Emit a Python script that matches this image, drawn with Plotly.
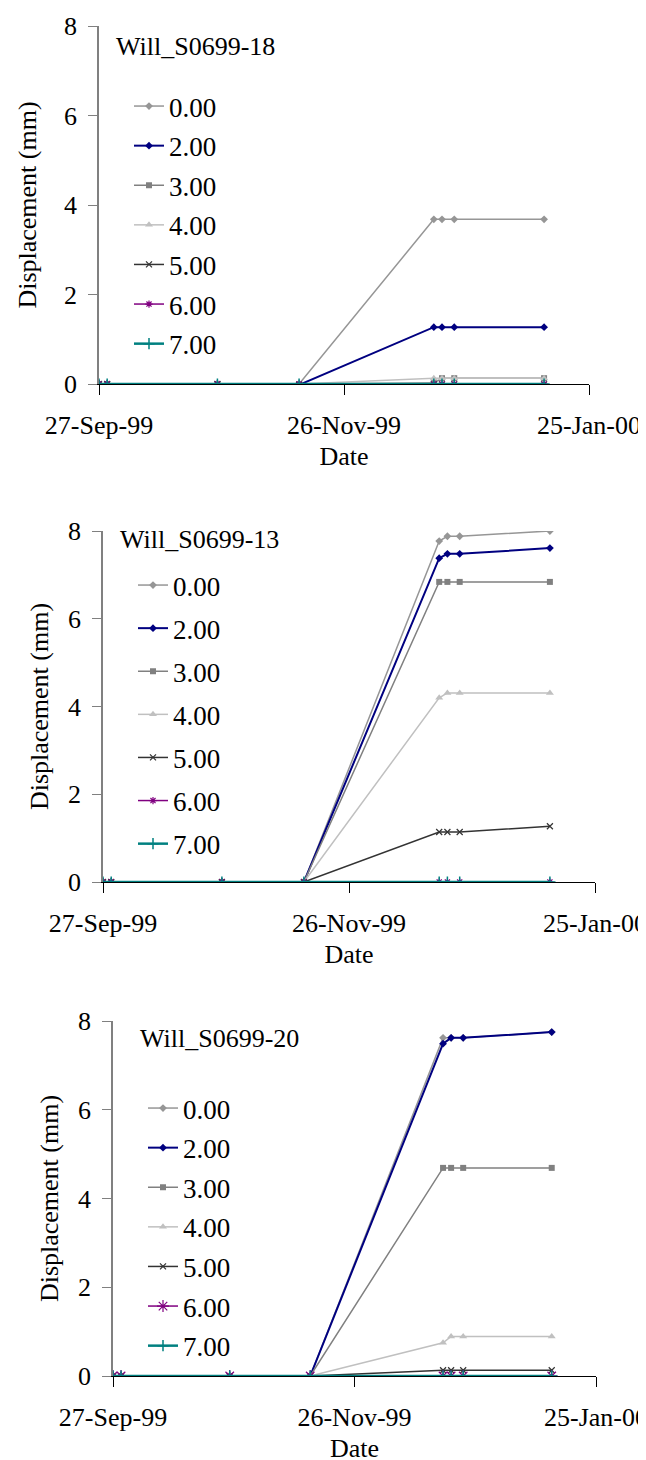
import plotly.graph_objects as go

# ---------------- data ----------------
dates = ["1999-09-27", "1999-09-29", "1999-10-26", "1999-11-15",
         "1999-12-18", "1999-12-20", "1999-12-23", "2000-01-14"]

series_names = ["0.00", "2.00", "3.00", "4.00", "5.00", "6.00", "7.00"]

titles = ["Will_S0699-18", "Will_S0699-13", "Will_S0699-20"]

s18_000 = [0, 0, 0, 0, 3.68, 3.68, 3.68, 3.68]
s18_200 = [0, 0, 0, -0.02, 1.27, 1.27, 1.27, 1.27]
s18_300 = [0, 0, 0, 0, 0.02, 0.13, 0.13, 0.13]
s18_400 = [0, 0, 0, 0, 0.13, 0.13, 0.13, 0.13]
s18_500 = [0, 0, 0, -0.02, -0.01, -0.01, -0.01, -0.01]
s18_600 = [0, 0, 0, 0, 0, 0, 0, 0]
s18_700 = [0, 0, 0, 0, 0, 0, 0, 0]

s13_000 = [0, 0, 0, 0, 7.77, 7.88, 7.88, 8.0]
s13_200 = [0, 0, 0, 0, 7.38, 7.48, 7.48, 7.61]
s13_300 = [0, 0, 0, 0, 6.84, 6.84, 6.84, 6.84]
s13_400 = [0, 0, 0, 0, 4.20, 4.31, 4.31, 4.31]
s13_500 = [0, 0, 0, 0, 1.14, 1.14, 1.14, 1.27]
s13_600 = [0, 0, 0, 0, 0, 0, 0, 0]
s13_700 = [0, 0, 0, 0, 0, 0, 0, 0]

s20_000 = [0, 0, 0, 0, 7.62, 7.62, 7.62, 7.75]
s20_200 = [0, 0, 0, 0, 7.49, 7.62, 7.62, 7.75]
s20_300 = [0, 0, 0, 0, 4.69, 4.69, 4.69, 4.69]
s20_400 = [0, 0, 0, 0, 0.75, 0.89, 0.89, 0.89]
s20_500 = [0, 0, 0, 0, 0.13, 0.13, 0.13, 0.13]
s20_600 = [0, 0, 0, 0, 0, 0, 0, 0]
s20_700 = [0, 0, 0, 0, 0, 0, 0, 0]

charts = [
    [s18_000, s18_200, s18_300, s18_400, s18_500, s18_600, s18_700],
    [s13_000, s13_200, s13_300, s13_400, s13_500, s13_600, s13_700],
    [s20_000, s20_200, s20_300, s20_400, s20_500, s20_600, s20_700],
]

x_tickvals = ["1999-09-27", "1999-11-26", "2000-01-25"]
x_ticktext = ["27-Sep-99", "26-Nov-99", "25-Jan-00"]
x_range = ["1999-09-27", "2000-01-25"]
y_ticks = [0, 2, 4, 6, 8]

# ---------------- styles ----------------
W, H = 646, 1460
FONT = "Liberation Serif"

styles = [
    dict(color="#969696", symbol="diamond", size=6, width=1.5, lw=0),
    dict(color="#000080", symbol="diamond", size=6, width=2.0, lw=0),
    dict(color="#808080", symbol="square", size=6, width=1.5, lw=0),
    dict(color="#C0C0C0", symbol="triangle-up", size=7, width=1.5, lw=0),
    dict(color="#333333", symbol="x-thin", size=6, width=1.5, lw=1.2),
    dict(color="#800080", symbol="asterisk", size=6, width=1.5, lw=1.2),
    dict(color="#008080", symbol="cross-thin", size=8, width=2.5, lw=1.5),
]

# pixel geometry of each panel: (x_left, x_right, y_top, y_bottom)
panels = [
    (91, 581, 18, 376),
    (95, 587, 523, 874),
    (105, 588, 1013, 1368),
]
ytitle_standoff = [20, 12, 12]
legend_pos = [(121, 74), (125, 553), (135, 1076)]
legend_gap = [1.5, 5, 1.5]
title_pos = [(106, 39), (110, 532), (130, 1030)]

fig = go.Figure()

for ci, series in enumerate(charts):
    xa = "x" if ci == 0 else f"x{ci+1}"
    ya = "y" if ci == 0 else f"y{ci+1}"
    lg = "legend" if ci == 0 else f"legend{ci+1}"
    for si, vals in enumerate(series):
        st = styles[si]
        msize = st["size"]
        if ci == 2 and si == 5:
            msize = 10
        fig.add_trace(go.Scatter(
            x=dates, y=vals, name=series_names[si], mode="lines+markers",
            xaxis=xa, yaxis=ya, legend=lg, legendgroup=f"c{ci}s{si}",
            line=dict(color=st["color"], width=st["width"]),
            marker=dict(symbol=st["symbol"], size=msize, color=st["color"],
                        line=dict(color=st["color"], width=st["lw"])),
        ))

layout = dict(
    template="none",
    width=W, height=H, margin=dict(l=0, r=0, t=0, b=0, autoexpand=False),
    paper_bgcolor="white", plot_bgcolor="white",
    font=dict(family=FONT, size=26, color="black"),
    annotations=[],
)

for ci, (xl, xr, yt, yb) in enumerate(panels):
    xkey = "xaxis" if ci == 0 else f"xaxis{ci+1}"
    ykey = "yaxis" if ci == 0 else f"yaxis{ci+1}"
    ya = "y" if ci == 0 else f"y{ci+1}"
    xa = "x" if ci == 0 else f"x{ci+1}"
    layout[xkey] = dict(
        domain=[xl / W, xr / W], anchor=ya, type="date", range=x_range,
        tickmode="array", tickvals=x_tickvals, ticktext=x_ticktext,
        ticks="outside", ticklen=10, tickcolor="black", tickwidth=1,
        showline=True, linecolor="black", linewidth=1,
        showgrid=False, zeroline=False, ticklabelstandoff=8,
        automargin=False,
        tickfont=dict(size=26, family=FONT, color="black"),
        title=dict(text="Date", standoff=7, font=dict(size=26, family=FONT, color="black")),
    )
    layout[ykey] = dict(
        domain=[1 - yb / H, 1 - yt / H], anchor=xa, range=[0, 8],
        tickmode="array", tickvals=y_ticks,
        ticks="outside", ticklen=9, tickcolor="#808080", tickwidth=1,
        showline=True, linecolor="#808080", linewidth=1.5,
        showgrid=False, zeroline=False, ticklabelstandoff=6,
        automargin=False,
        tickfont=dict(size=26, family=FONT, color="black"),
        title=dict(text="Displacement (mm)", standoff=ytitle_standoff[ci],
                   font=dict(size=26, family=FONT, color="black")),
    )
    lx, ly = legend_pos[ci]
    lkey = "legend" if ci == 0 else f"legend{ci+1}"
    layout[lkey] = dict(
        x=lx / W, y=1 - ly / H, xanchor="left", yanchor="top",
        bgcolor="rgba(0,0,0,0)", font=dict(size=27, family=FONT, color="black"),
        traceorder="grouped", tracegroupgap=legend_gap[ci], itemwidth=30,
    )
    tx, ty = title_pos[ci]
    layout["annotations"].append(dict(
        text=titles[ci], x=tx / W, y=1 - ty / H, xref="paper", yref="paper",
        xanchor="left", yanchor="middle", showarrow=False,
        font=dict(size=26, family=FONT, color="black"),
    ))

fig.update_layout(**layout)
fig.write_html("out.html")
